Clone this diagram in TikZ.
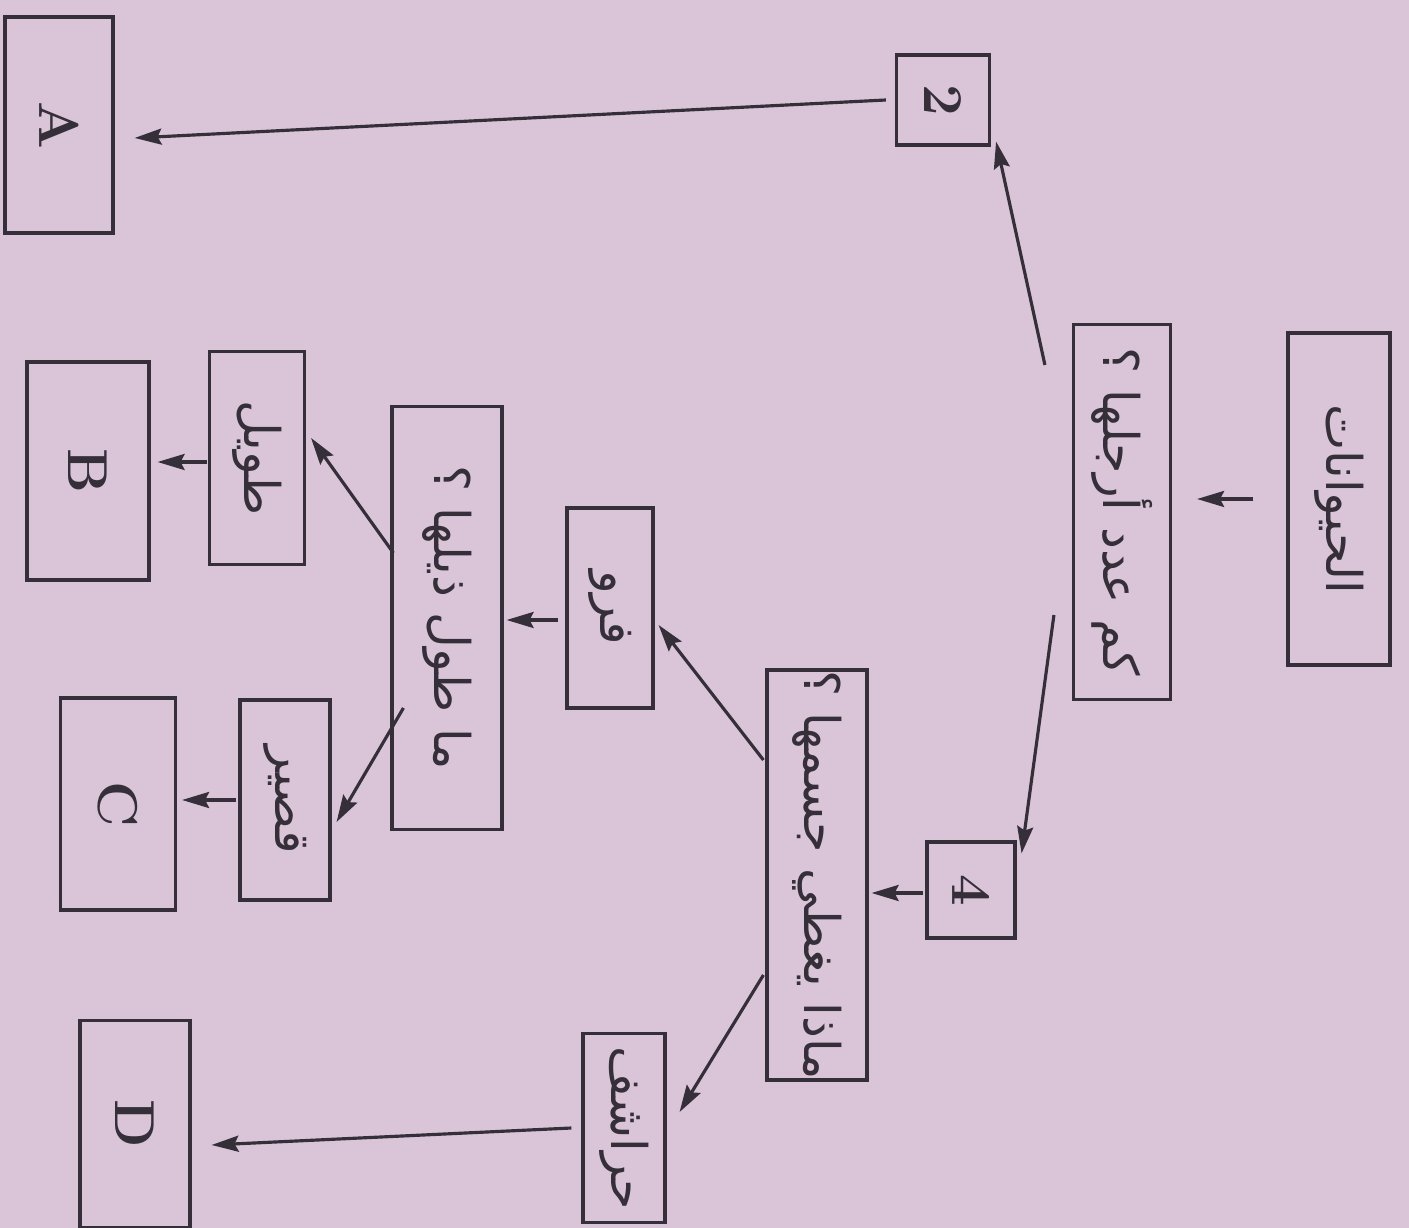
\documentclass[tikz,border=0pt]{standalone}
\usepackage{graphicx}
\usepackage{fontspec}
\usetikzlibrary{arrows.meta,calc}
\newfontfamily\arabicfont[Script=Arabic]{DejaVu Sans}
\TeXXeTstate=1
\definecolor{bg}{RGB}{217,197,215}
\definecolor{ink}{RGB}{52,47,57}
\newcommand{\rt}[1]{\rotatebox{-90}{#1}}
\newcommand{\ar}[1]{\rotatebox{-90}{\beginR #1\endR}}
\begin{document}
\begin{tikzpicture}[x=1cm,y=1cm,
 box/.style={draw=ink, line width=0.9pt, inner sep=0pt, rectangle},
 arr/.style={draw=ink, line width=0.9pt, -{Stealth[length=0.27cm,width=0.16cm,inset=0.04cm]}},
 artxt/.style={font=\arabicfont\fontsize{14}{16}\selectfont, text=ink},
 lat/.style={font=\fontsize{16}{18}\selectfont\bfseries, text=ink}]
\fill[bg] (0,0) rectangle (14.09,-12.28);
\useasboundingbox (0,0) rectangle (14.09,-12.28);

% boxes
\node[box, artxt, minimum width=1.02cm, minimum height=3.32cm] (animals) at (13.39,-4.99) {\ar{الحيوانات}};
\node[box, artxt, minimum width=0.97cm, minimum height=3.75cm] (legs) at (11.22,-5.12) {\ar{كم عدد أرجلها ؟}};
\node[box, lat, minimum width=0.93cm, minimum height=0.90cm] (two) at (9.43,-1.00) {\rt{2}};
\node[box, lat, minimum width=0.88cm, minimum height=0.96cm] (four) at (9.71,-8.90) {\rt{4}};
\node[box, artxt, minimum width=1.00cm, minimum height=4.10cm] (cover) at (8.17,-8.75) {\ar{ماذا يغطي جسمها ؟}};
\node[box, lat, minimum width=1.08cm, minimum height=2.16cm] (A) at (0.59,-1.25) {\rt{A}};
\node[box, lat, minimum width=1.10cm, minimum height=2.07cm] (D) at (1.35,-11.24) {\rt{D}};
\node[box, artxt, minimum width=0.86cm, minimum height=2.00cm] (fur) at (6.10,-6.08) {\ar{فرو}};
\node[box, artxt, minimum width=0.82cm, minimum height=1.89cm] (scales) at (6.24,-11.28) {\ar{حراشف}};
\node[box, artxt, minimum width=1.10cm, minimum height=4.23cm] (tail) at (4.47,-6.18) {\ar{ما طول ذيلها ؟}};
\node[box, artxt, minimum width=0.95cm, minimum height=2.13cm] (long) at (2.57,-4.58) {\ar{طويل}};
\node[box, artxt, minimum width=0.90cm, minimum height=2.00cm] (short) at (2.85,-8.00) {\ar{قصير}};
\node[box, lat, minimum width=1.22cm, minimum height=2.18cm] (B) at (0.88,-4.71) {\rt{B}};
\node[box, lat, minimum width=1.15cm, minimum height=2.12cm] (C) at (1.18,-8.04) {\rt{C}};

% connectors
\draw[arr, shorten <=0.33cm, shorten >=0.25cm] (animals.west) -- (animals.west -| legs.east);
\draw[arr] ([xshift=-0.27cm,yshift=1.47cm]legs.west) -- ([xshift=0.05cm,yshift=0.05cm]two.south east);
\draw[arr] ([xshift=-0.18cm,yshift=-1.03cm]legs.west) -- ([xshift=0.05cm,yshift=-0.13cm]four.north east);
\draw[arr] ([xshift=-0.09cm]two.west) -- ([xshift=0.2cm,yshift=-0.13cm]A.east);
\draw[arr, shorten <=0.02cm, shorten >=0.03cm] ([yshift=-0.03cm]four.west) -- ([yshift=-0.03cm]four.west -| cover.east);
\draw[arr] ([xshift=-0.02cm,yshift=1.15cm]cover.west) -- ([xshift=0.04cm,yshift=-0.17cm]fur.east);
\draw[arr] ([xshift=-0.02cm,yshift=-1.0cm]cover.west) -- ([xshift=0.13cm,yshift=0.16cm]scales.east);
\draw[arr, shorten <=0.07cm, shorten >=0.03cm] ([yshift=-0.12cm]fur.west) -- ([yshift=-0.12cm]fur.west -| tail.east);
\draw[arr] ([xshift=-0.1cm]scales.west) -- ([xshift=0.2cm,yshift=-0.21cm]D.east);
\draw[arr] ([xshift=0.03cm,yshift=0.65cm]tail.west) -- ([xshift=0.05cm,yshift=0.2cm]long.east);
\draw[arr] ([xshift=0.13cm,yshift=-0.9cm]tail.west) -- ([xshift=0.05cm,yshift=-0.22cm]short.east);
\draw[arr, shorten <=0.01cm, shorten >=0.07cm] ([yshift=-0.04cm]long.west) -- ([yshift=-0.04cm]long.west -| B.east);
\draw[arr, shorten <=0.02cm, shorten >=0.05cm] (short.west) -- (short.west -| C.east);
\end{tikzpicture}
\end{document}
